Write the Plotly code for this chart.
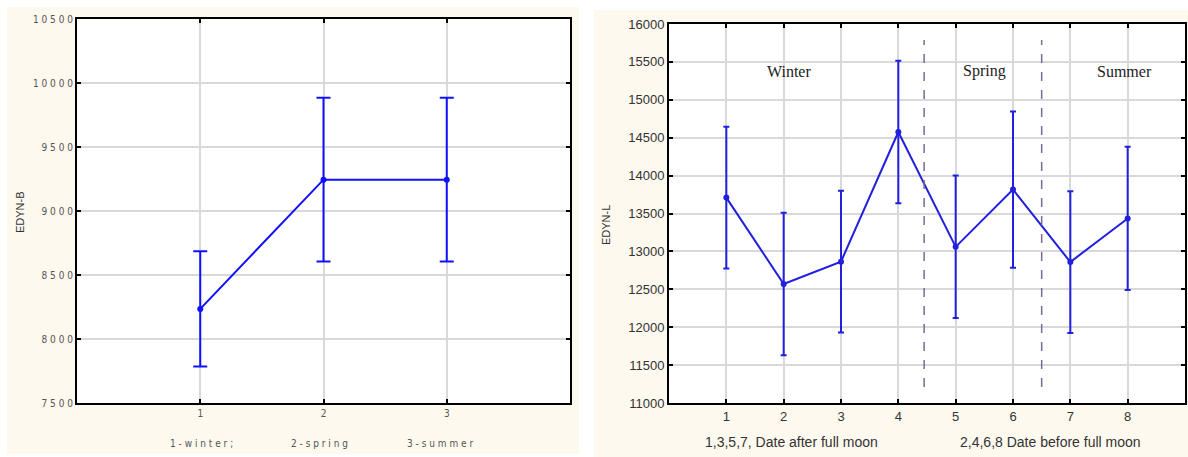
import plotly.graph_objects as go

# ---------------- data ----------------
# Left panel (EDYN-B by season)
season_x = [1, 2, 3]
season_labels = ["1-winter;", "2-spring", "3-summer"]
edyn_b = [8235, 9245, 9245]
edyn_b_err = [450, 640, 640]
left_yticks = [7500, 8000, 8500, 9000, 9500, 10000, 10500]

# Right panel (EDYN-L by date group)
date_x = [1, 2, 3, 4, 5, 6, 7, 8]
edyn_l = [13710, 12570, 12865, 14575, 13060, 13815, 12860, 13435]
edyn_l_err = [935, 940, 935, 940, 940, 1030, 935, 945]
right_yticks = [11000, 11500, 12000, 12500, 13000, 13500, 14000, 14500, 15000, 15500, 16000]
season_names = ["Winter", "Spring", "Summer"]
season_name_x = [2.1, 5.5, 7.95]
season_bounds = [4.45, 6.5]
group_labels = ["1,3,5,7, Date after full moon", "2,4,6,8 Date before full moon"]

W, H = 1188, 457
CREAM = "#fdf9ee"
GRID = "#d9d9d9"


def px(x):
    return x / W


def py(y):
    return 1 - y / H


def spaced(s):
    return " ".join(list(str(s)))


fig = go.Figure()

fig.add_trace(go.Scatter(
    x=season_x, y=edyn_b, mode="lines+markers",
    line=dict(color="#1010ff", width=2),
    marker=dict(color="#1010ff", size=6),
    error_y=dict(type="data", array=edyn_b_err, color="#1010ff", thickness=2, width=7),
    xaxis="x", yaxis="y", showlegend=False,
))

fig.add_trace(go.Scatter(
    x=date_x, y=edyn_l, mode="lines+markers",
    line=dict(color="#2020dd", width=2),
    marker=dict(color="#2020dd", size=6),
    error_y=dict(type="data", array=edyn_l_err, color="#2020dd", thickness=2, width=3),
    xaxis="x2", yaxis="y2", showlegend=False,
))

L_DOM_X = [px(77), px(570)]
L_DOM_Y = [py(403), py(19)]
R_DOM_X = [px(669), px(1185)]
R_DOM_Y = [py(403), py(24)]

shapes = [
    dict(type="rect", xref="paper", yref="paper", x0=px(7), x1=px(579), y0=py(454), y1=py(7),
         fillcolor=CREAM, line=dict(width=0), layer="below"),
    dict(type="rect", xref="paper", yref="paper", x0=px(594), x1=1, y0=0, y1=py(10),
         fillcolor=CREAM, line=dict(width=0), layer="below"),
    dict(type="rect", xref="paper", yref="paper", x0=L_DOM_X[0], x1=L_DOM_X[1], y0=L_DOM_Y[0], y1=L_DOM_Y[1],
         fillcolor="white", line=dict(width=0), layer="below"),
    dict(type="rect", xref="paper", yref="paper", x0=R_DOM_X[0], x1=R_DOM_X[1], y0=R_DOM_Y[0], y1=R_DOM_Y[1],
         fillcolor="white", line=dict(width=0), layer="below"),
]
for b in season_bounds:
    shapes.append(dict(type="line", xref="x2", yref="y2", x0=b, x1=b, y0=11210, y1=15790,
                       line=dict(color="#7a6a96", width=1.5, dash="dash")))

ann_common = dict(showarrow=False, xanchor="center", yanchor="middle")
annotations = []
label_px = [201, 319, 440]
for xc, lab in zip(label_px, season_labels):
    annotations.append(dict(x=px(xc), y=py(443), xref="paper", yref="paper", text=spaced(lab),
                            font=dict(family="Liberation Sans Narrow, DejaVu Sans Condensed",
                                      size=10, color="#555555"), **ann_common))
annotations.append(dict(x=px(20), y=py(212), xref="paper", yref="paper", text="EDYN-B", textangle=-90,
                        font=dict(family="Arial, Liberation Sans", size=11, color="#333333"), **ann_common))
annotations.append(dict(x=px(606), y=py(225), xref="paper", yref="paper", text="EDYN-L", textangle=-90,
                        font=dict(family="Arial, Liberation Sans", size=11, color="#333333"), **ann_common))
for xv, name in zip(season_name_x, season_names):
    annotations.append(dict(x=xv, y=py(71), xref="x2", yref="paper", text=name,
                            font=dict(family="Liberation Serif, Times New Roman", size=16, color="#222222"),
                            **ann_common))
for xc, lab in zip([791, 1050], group_labels):
    annotations.append(dict(x=px(xc), y=py(442), xref="paper", yref="paper", text=lab,
                            font=dict(family="Liberation Sans, Arial", size=14, color="#333333"), **ann_common))

axis_common = dict(showline=True, linecolor="black", linewidth=2, mirror="ticks",
                   ticks="inside", ticklen=4, tickcolor="black", tickwidth=1.5, automargin=False,
                   showgrid=True, gridcolor=GRID, gridwidth=1.5, zeroline=False)

fig.update_layout(
    template="none",
    width=W, height=H, autosize=False,
    margin=dict(l=0, r=0, t=0, b=0, pad=0, autoexpand=False),
    paper_bgcolor="white", plot_bgcolor="white",
    shapes=shapes, annotations=annotations,
    xaxis=dict(domain=L_DOM_X, range=[0, 4], tickvals=season_x,
               ticktext=[str(v) for v in season_x],
               tickfont=dict(family="Liberation Sans Narrow, DejaVu Sans Condensed", size=10, color="#555555"),
               anchor="y", **axis_common),
    yaxis=dict(domain=L_DOM_Y, range=[7500, 10500], tickvals=left_yticks,
               ticktext=[spaced(v) for v in left_yticks],
               tickfont=dict(family="Liberation Sans Narrow, DejaVu Sans Condensed", size=10, color="#555555"),
               anchor="x", **axis_common),
    xaxis2=dict(domain=R_DOM_X, range=[0, 9], tickvals=date_x,
                tickfont=dict(family="Liberation Sans, Arial", size=13, color="#333333"),
                anchor="y2", **axis_common),
    yaxis2=dict(domain=R_DOM_Y, range=[11000, 16000], tickvals=right_yticks,
                ticktext=[str(v) for v in right_yticks],
                tickfont=dict(family="Liberation Sans, Arial", size=13, color="#333333"),
                anchor="x2", **axis_common),
)

fig.write_html(
    "out.html",
    config={"responsive": False, "displayModeBar": False},
    default_width=f"{W}px", default_height=f"{H}px",
    post_script=(
        "document.documentElement.style.margin='0';"
        "document.body.style.margin='0';document.body.style.padding='0';"
        "document.body.style.overflow='hidden';"
    ),
)
